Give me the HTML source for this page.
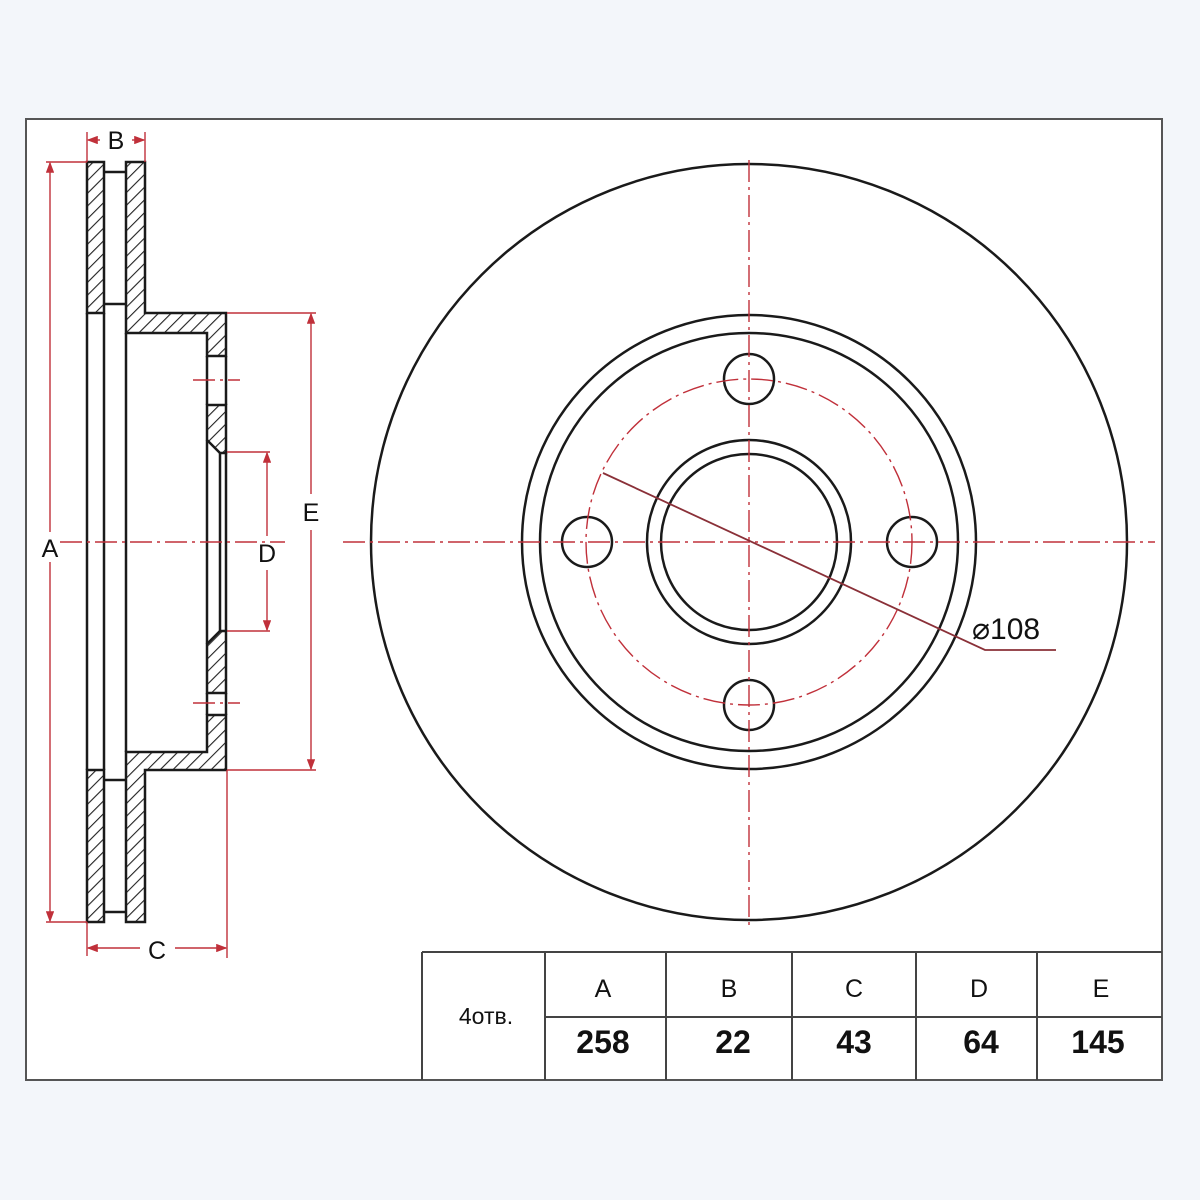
<!DOCTYPE html>
<html><head><meta charset="utf-8"><style>
html,body{margin:0;padding:0;background:#f3f6fa;}
svg{display:block}
text{font-family:"Liberation Sans",sans-serif;fill:#111}
</style></head><body>
<svg width="1200" height="1200" viewBox="0 0 1200 1200" xmlns="http://www.w3.org/2000/svg">
<defs>
<pattern id="h" patternUnits="userSpaceOnUse" width="9" height="9" patternTransform="rotate(45)">
<rect width="9" height="9" fill="#fff"/><line x1="0" y1="0" x2="0" y2="9" stroke="#222" stroke-width="2.2"/>
</pattern>
<marker id="ar" markerWidth="8" markerHeight="6" refX="7" refY="3" orient="auto"><path d="M0,0 L8,3 L0,6z" fill="#c0303a"/></marker>
</defs>
<rect x="0" y="0" width="1200" height="1200" fill="#f3f6fa"/>
<rect x="26" y="119" width="1136" height="961" fill="#fff" stroke="#555" stroke-width="2"/>

<g stroke="#1a1a1a" stroke-width="2.5" fill="none">
<rect x="87" y="162" width="17" height="151" fill="url(#h)"/>
<rect x="87" y="770" width="17" height="152" fill="url(#h)"/>
<line x1="87" y1="313" x2="87" y2="770"/><line x1="104" y1="313" x2="104" y2="770"/>
<line x1="104" y1="172" x2="126" y2="172"/><line x1="104" y1="304" x2="126" y2="304"/>
<line x1="104" y1="780" x2="126" y2="780"/><line x1="104" y1="912" x2="126" y2="912"/>
<path d="M126,162 L145,162 L145,313 L226,313 L226,356 L207,356 L207,333 L126,333 Z" fill="url(#h)"/>
<path d="M207,405 L226,405 L226,453 L220,453 L207,440 Z" fill="url(#h)"/>
<path d="M207,644 L220,631 L226,631 L226,693 L207,693 Z" fill="url(#h)"/>
<path d="M126,922 L145,922 L145,770 L226,770 L226,715 L207,715 L207,752 L126,752 Z" fill="url(#h)"/>
<line x1="126" y1="333" x2="126" y2="752"/>
<line x1="207" y1="356" x2="207" y2="405"/><line x1="226" y1="356" x2="226" y2="405"/>
<line x1="207" y1="693" x2="207" y2="715"/><line x1="226" y1="693" x2="226" y2="715"/>
<line x1="207" y1="440" x2="207" y2="644"/>
<line x1="220" y1="453" x2="220" y2="631"/>
<line x1="226" y1="453" x2="226" y2="631"/>
</g>

<g stroke="#c0303a" stroke-width="1.4" fill="none">
<line x1="46" y1="162" x2="87" y2="162"/><line x1="46" y1="922" x2="87" y2="922"/>
<line x1="50" y1="532" x2="50" y2="163" marker-end="url(#ar)"/>
<line x1="50" y1="562" x2="50" y2="921" marker-end="url(#ar)"/>
<line x1="87" y1="132" x2="87" y2="162"/><line x1="145" y1="132" x2="145" y2="162"/>
<line x1="100" y1="140" x2="88" y2="140" marker-end="url(#ar)"/>
<line x1="132" y1="140" x2="144" y2="140" marker-end="url(#ar)"/>
<line x1="87" y1="922" x2="87" y2="956"/><line x1="227" y1="770" x2="227" y2="958"/>
<line x1="140" y1="948" x2="88" y2="948" marker-end="url(#ar)"/>
<line x1="175" y1="948" x2="226" y2="948" marker-end="url(#ar)"/>
<line x1="227" y1="452" x2="270" y2="452"/><line x1="227" y1="631" x2="270" y2="631"/>
<line x1="267" y1="536" x2="267" y2="453" marker-end="url(#ar)"/>
<line x1="267" y1="570" x2="267" y2="630" marker-end="url(#ar)"/>
<line x1="227" y1="313" x2="316" y2="313"/><line x1="227" y1="770" x2="316" y2="770"/>
<line x1="311" y1="494" x2="311" y2="314" marker-end="url(#ar)"/>
<line x1="311" y1="530" x2="311" y2="769" marker-end="url(#ar)"/>
</g>
<g stroke="#c0303a" stroke-width="1.4" stroke-dasharray="22,5,3,5" fill="none">
<line x1="60" y1="542" x2="285" y2="542"/>
<line x1="193" y1="380" x2="240" y2="380"/>
<line x1="193" y1="703" x2="240" y2="703"/>
</g>
<g font-size="25">
<text x="116" y="149" text-anchor="middle">B</text>
<text x="50" y="557" text-anchor="middle">A</text>
<text x="157" y="959" text-anchor="middle">C</text>
<text x="267" y="562" text-anchor="middle">D</text>
<text x="311" y="521" text-anchor="middle">E</text>
</g>

<g stroke="#1a1a1a" stroke-width="2.5" fill="none">
<circle cx="749" cy="542" r="378"/>
<circle cx="749" cy="542" r="227"/>
<circle cx="749" cy="542" r="209"/>
<circle cx="749" cy="542" r="102"/>
<circle cx="749" cy="542" r="88"/>
<circle cx="749" cy="379" r="25"/>
<circle cx="749" cy="705" r="25"/>
<circle cx="587" cy="542" r="25"/>
<circle cx="912" cy="542" r="25"/>
</g>
<g stroke="#c0303a" stroke-width="1.4" stroke-dasharray="22,5,3,5" fill="none">
<line x1="343" y1="542" x2="1155" y2="542"/>
<line x1="749" y1="160" x2="749" y2="925"/>
<circle cx="749" cy="542" r="163"/>
</g>
<path d="M603,473 L985,650 L1056,650" stroke="#8a3038" stroke-width="1.8" fill="none"/>
<text x="972" y="639" font-size="30">⌀108</text>

<g stroke="#444" stroke-width="2" fill="none">
<line x1="422" y1="952" x2="1162" y2="952"/>
<line x1="545" y1="1017" x2="1162" y2="1017"/>
<line x1="422" y1="952" x2="422" y2="1080"/>
<line x1="545" y1="952" x2="545" y2="1080"/>
<line x1="666" y1="952" x2="666" y2="1080"/>
<line x1="792" y1="952" x2="792" y2="1080"/>
<line x1="916" y1="952" x2="916" y2="1080"/>
<line x1="1037" y1="952" x2="1037" y2="1080"/>
</g>
<g font-size="25" text-anchor="middle">
<text x="486" y="1024" font-size="23">4отв.</text>
<text x="603" y="997">A</text>
<text x="729" y="997">B</text>
<text x="854" y="997">C</text>
<text x="979" y="997">D</text>
<text x="1101" y="997">E</text>
</g>
<g font-size="32" text-anchor="middle" style="font-weight:600">
<text x="603" y="1053">258</text>
<text x="733" y="1053">22</text>
<text x="854" y="1053">43</text>
<text x="981" y="1053">64</text>
<text x="1098" y="1053">145</text>
</g>
</svg>
</body></html>
